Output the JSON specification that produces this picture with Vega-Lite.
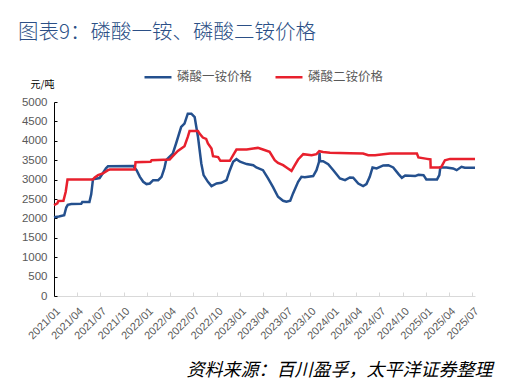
{
  "$schema": "https://vega.github.io/schema/vega-lite/v6.json",
  "autosize": "none",
  "width": 421,
  "height": 194,
  "padding": {"left": 54, "top": 102, "right": 32, "bottom": 86},
  "background": "white",
  "config": {"view": {"stroke": null}, "font": "Noto Sans CJK SC"},
  "title": {
    "text": "图表9：磷酸一铵、磷酸二铵价格",
    "anchor": "start",
    "frame": "group",
    "fontSize": 20.5,
    "fontWeight": 300,
    "font": "Noto Sans CJK SC",
    "color": "#2B4F86",
    "dx": -36,
    "dy": -19,
    "offset": 0
  },
  "data": {
    "values": [
      {"d": "2021/01/01", "v": 2030, "s": "磷酸一铵价格"},
      {"d": "2021/01/20", "v": 2050, "s": "磷酸一铵价格"},
      {"d": "2021/02/10", "v": 2080, "s": "磷酸一铵价格"},
      {"d": "2021/02/18", "v": 2280, "s": "磷酸一铵价格"},
      {"d": "2021/02/24", "v": 2350, "s": "磷酸一铵价格"},
      {"d": "2021/03/10", "v": 2370, "s": "磷酸一铵价格"},
      {"d": "2021/04/18", "v": 2380, "s": "磷酸一铵价格"},
      {"d": "2021/04/22", "v": 2420, "s": "磷酸一铵价格"},
      {"d": "2021/05/20", "v": 2420, "s": "磷酸一铵价格"},
      {"d": "2021/05/27", "v": 2620, "s": "磷酸一铵价格"},
      {"d": "2021/06/03", "v": 3010, "s": "磷酸一铵价格"},
      {"d": "2021/06/29", "v": 3040, "s": "磷酸一铵价格"},
      {"d": "2021/07/12", "v": 3170, "s": "磷酸一铵价格"},
      {"d": "2021/07/24", "v": 3290, "s": "磷酸一铵价格"},
      {"d": "2021/08/01", "v": 3346, "s": "磷酸一铵价格"},
      {"d": "2021/11/08", "v": 3350, "s": "磷酸一铵价格"},
      {"d": "2021/11/21", "v": 3243, "s": "磷酸一铵价格"},
      {"d": "2021/12/04", "v": 3071, "s": "磷酸一铵价格"},
      {"d": "2021/12/17", "v": 2943, "s": "磷酸一铵价格"},
      {"d": "2021/12/30", "v": 2884, "s": "磷酸一铵价格"},
      {"d": "2022/01/12", "v": 2900, "s": "磷酸一铵价格"},
      {"d": "2022/01/25", "v": 2986, "s": "磷酸一铵价格"},
      {"d": "2022/02/14", "v": 2986, "s": "磷酸一铵价格"},
      {"d": "2022/02/27", "v": 3070, "s": "磷酸一铵价格"},
      {"d": "2022/03/10", "v": 3287, "s": "磷酸一铵价格"},
      {"d": "2022/03/17", "v": 3500, "s": "磷酸一铵价格"},
      {"d": "2022/03/23", "v": 3540, "s": "磷酸一铵价格"},
      {"d": "2022/04/12", "v": 3672, "s": "磷酸一铵价格"},
      {"d": "2022/04/25", "v": 3930, "s": "磷酸一铵价格"},
      {"d": "2022/05/15", "v": 4356, "s": "磷酸一铵价格"},
      {"d": "2022/05/28", "v": 4444, "s": "磷酸一铵价格"},
      {"d": "2022/06/10", "v": 4700, "s": "磷酸一铵价格"},
      {"d": "2022/06/24", "v": 4700, "s": "磷酸一铵价格"},
      {"d": "2022/07/07", "v": 4613, "s": "磷酸一铵价格"},
      {"d": "2022/07/20", "v": 4099, "s": "磷酸一铵价格"},
      {"d": "2022/08/02", "v": 3415, "s": "磷酸一铵价格"},
      {"d": "2022/08/11", "v": 3115, "s": "磷酸一铵价格"},
      {"d": "2022/08/28", "v": 2943, "s": "磷酸一铵价格"},
      {"d": "2022/09/11", "v": 2832, "s": "磷酸一铵价格"},
      {"d": "2022/10/01", "v": 2900, "s": "磷酸一铵价格"},
      {"d": "2022/10/20", "v": 2917, "s": "磷酸一铵价格"},
      {"d": "2022/11/09", "v": 2986, "s": "磷酸一铵价格"},
      {"d": "2022/11/22", "v": 3243, "s": "磷酸一铵价格"},
      {"d": "2022/12/05", "v": 3457, "s": "磷酸一铵价格"},
      {"d": "2022/12/18", "v": 3526, "s": "磷酸一铵价格"},
      {"d": "2023/01/01", "v": 3460, "s": "磷酸一铵价格"},
      {"d": "2023/01/27", "v": 3400, "s": "磷酸一铵价格"},
      {"d": "2023/02/22", "v": 3370, "s": "磷酸一铵价格"},
      {"d": "2023/03/06", "v": 3313, "s": "磷酸一铵价格"},
      {"d": "2023/04/01", "v": 3243, "s": "磷酸一铵价格"},
      {"d": "2023/04/21", "v": 3030, "s": "磷酸一铵价格"},
      {"d": "2023/05/10", "v": 2814, "s": "磷酸一铵价格"},
      {"d": "2023/05/30", "v": 2557, "s": "磷酸一铵价格"},
      {"d": "2023/06/19", "v": 2454, "s": "磷酸一铵价格"},
      {"d": "2023/07/02", "v": 2429, "s": "磷酸一铵价格"},
      {"d": "2023/07/17", "v": 2454, "s": "磷酸一铵价格"},
      {"d": "2023/07/28", "v": 2644, "s": "磷酸一铵价格"},
      {"d": "2023/08/17", "v": 2943, "s": "磷酸一铵价格"},
      {"d": "2023/08/30", "v": 3071, "s": "磷酸一铵价格"},
      {"d": "2023/09/12", "v": 3060, "s": "磷酸一铵价格"},
      {"d": "2023/10/15", "v": 3090, "s": "磷酸一铵价格"},
      {"d": "2023/10/28", "v": 3243, "s": "磷酸一铵价格"},
      {"d": "2023/11/07", "v": 3457, "s": "磷酸一铵价格"},
      {"d": "2023/11/09", "v": 3690, "s": "磷酸一铵价格"},
      {"d": "2023/11/11", "v": 3475, "s": "磷酸一铵价格"},
      {"d": "2023/11/23", "v": 3475, "s": "磷酸一铵价格"},
      {"d": "2023/12/13", "v": 3398, "s": "磷酸一铵价格"},
      {"d": "2024/01/02", "v": 3243, "s": "磷酸一铵价格"},
      {"d": "2024/01/28", "v": 3030, "s": "磷酸一铵价格"},
      {"d": "2024/02/17", "v": 2986, "s": "磷酸一铵价格"},
      {"d": "2024/03/07", "v": 3056, "s": "磷酸一铵价格"},
      {"d": "2024/03/20", "v": 3050, "s": "磷酸一铵价格"},
      {"d": "2024/04/09", "v": 2900, "s": "磷酸一铵价格"},
      {"d": "2024/04/28", "v": 2832, "s": "磷酸一铵价格"},
      {"d": "2024/05/11", "v": 2884, "s": "磷酸一铵价格"},
      {"d": "2024/05/24", "v": 3071, "s": "磷酸一铵价格"},
      {"d": "2024/06/04", "v": 3313, "s": "磷酸一铵价格"},
      {"d": "2024/06/20", "v": 3287, "s": "磷酸一铵价格"},
      {"d": "2024/07/16", "v": 3364, "s": "磷酸一铵价格"},
      {"d": "2024/08/05", "v": 3372, "s": "磷酸一铵价格"},
      {"d": "2024/08/24", "v": 3313, "s": "磷酸一铵价格"},
      {"d": "2024/09/14", "v": 3141, "s": "磷酸一铵价格"},
      {"d": "2024/09/27", "v": 3046, "s": "磷酸一铵价格"},
      {"d": "2024/10/10", "v": 3107, "s": "磷酸一铵价格"},
      {"d": "2024/11/18", "v": 3090, "s": "磷酸一铵价格"},
      {"d": "2024/12/01", "v": 3124, "s": "磷酸一铵价格"},
      {"d": "2024/12/21", "v": 3115, "s": "磷酸一铵价格"},
      {"d": "2025/01/01", "v": 3004, "s": "磷酸一铵价格"},
      {"d": "2025/02/12", "v": 3004, "s": "磷酸一铵价格"},
      {"d": "2025/02/21", "v": 3115, "s": "磷酸一铵价格"},
      {"d": "2025/02/25", "v": 3313, "s": "磷酸一铵价格"},
      {"d": "2025/03/21", "v": 3313, "s": "磷酸一铵价格"},
      {"d": "2025/04/16", "v": 3287, "s": "磷酸一铵价格"},
      {"d": "2025/04/30", "v": 3243, "s": "磷酸一铵价格"},
      {"d": "2025/05/19", "v": 3330, "s": "磷酸一铵价格"},
      {"d": "2025/06/01", "v": 3305, "s": "磷酸一铵价格"},
      {"d": "2025/07/11", "v": 3305, "s": "磷酸一铵价格"},
      {"d": "2021/01/01", "v": 2344, "s": "磷酸二铵价格"},
      {"d": "2021/01/14", "v": 2387, "s": "磷酸二铵价格"},
      {"d": "2021/01/18", "v": 2450, "s": "磷酸二铵价格"},
      {"d": "2021/02/07", "v": 2454, "s": "磷酸二铵价格"},
      {"d": "2021/02/16", "v": 2686, "s": "磷酸二铵价格"},
      {"d": "2021/02/23", "v": 3000, "s": "磷酸二铵价格"},
      {"d": "2021/06/03", "v": 3004, "s": "磷酸二铵价格"},
      {"d": "2021/06/10", "v": 3056, "s": "磷酸二铵价格"},
      {"d": "2021/06/23", "v": 3115, "s": "磷酸二铵价格"},
      {"d": "2021/07/12", "v": 3158, "s": "磷酸二铵价格"},
      {"d": "2021/08/01", "v": 3243, "s": "磷酸二铵价格"},
      {"d": "2021/08/08", "v": 3260, "s": "磷酸二铵价格"},
      {"d": "2021/11/14", "v": 3260, "s": "磷酸二铵价格"},
      {"d": "2021/11/17", "v": 3450, "s": "磷酸二铵价格"},
      {"d": "2022/01/15", "v": 3457, "s": "磷酸二铵价格"},
      {"d": "2022/01/19", "v": 3500, "s": "磷酸二铵价格"},
      {"d": "2022/03/31", "v": 3520, "s": "磷酸二铵价格"},
      {"d": "2022/04/12", "v": 3603, "s": "磷酸二铵价格"},
      {"d": "2022/05/02", "v": 3740, "s": "磷酸二铵价格"},
      {"d": "2022/05/28", "v": 3860, "s": "磷酸二铵价格"},
      {"d": "2022/06/10", "v": 4099, "s": "磷酸二铵价格"},
      {"d": "2022/06/17", "v": 4253, "s": "磷酸二铵价格"},
      {"d": "2022/07/20", "v": 4250, "s": "磷酸二铵价格"},
      {"d": "2022/07/26", "v": 4187, "s": "磷酸二铵价格"},
      {"d": "2022/08/08", "v": 4084, "s": "磷酸二铵价格"},
      {"d": "2022/08/21", "v": 4050, "s": "磷酸二铵价格"},
      {"d": "2022/08/28", "v": 3930, "s": "磷酸二铵价格"},
      {"d": "2022/09/11", "v": 3801, "s": "磷酸二铵价格"},
      {"d": "2022/09/17", "v": 3603, "s": "磷酸二铵价格"},
      {"d": "2022/10/07", "v": 3580, "s": "磷酸二铵价格"},
      {"d": "2022/10/16", "v": 3483, "s": "磷酸二铵价格"},
      {"d": "2022/11/22", "v": 3483, "s": "磷酸二铵价格"},
      {"d": "2022/12/05", "v": 3629, "s": "磷酸二铵价格"},
      {"d": "2022/12/18", "v": 3775, "s": "磷酸二铵价格"},
      {"d": "2023/01/27", "v": 3775, "s": "磷酸二铵价格"},
      {"d": "2023/02/22", "v": 3801, "s": "磷酸二铵价格"},
      {"d": "2023/03/12", "v": 3817, "s": "磷酸二铵价格"},
      {"d": "2023/04/01", "v": 3775, "s": "磷酸二铵价格"},
      {"d": "2023/04/27", "v": 3714, "s": "磷酸二铵价格"},
      {"d": "2023/05/17", "v": 3500, "s": "磷酸二铵价格"},
      {"d": "2023/05/30", "v": 3431, "s": "磷酸二铵价格"},
      {"d": "2023/06/19", "v": 3372, "s": "磷酸二铵价格"},
      {"d": "2023/07/08", "v": 3287, "s": "磷酸二铵价格"},
      {"d": "2023/07/22", "v": 3225, "s": "磷酸二铵价格"},
      {"d": "2023/08/04", "v": 3372, "s": "磷酸二铵价格"},
      {"d": "2023/08/17", "v": 3518, "s": "磷酸二铵价格"},
      {"d": "2023/09/06", "v": 3655, "s": "磷酸二铵价格"},
      {"d": "2023/10/09", "v": 3629, "s": "磷酸二铵价格"},
      {"d": "2023/10/28", "v": 3655, "s": "磷酸二铵价格"},
      {"d": "2023/11/08", "v": 3732, "s": "磷酸二铵价格"},
      {"d": "2023/11/23", "v": 3714, "s": "磷酸二铵价格"},
      {"d": "2023/12/20", "v": 3690, "s": "磷酸二铵价格"},
      {"d": "2024/03/07", "v": 3680, "s": "磷酸二铵价格"},
      {"d": "2024/04/28", "v": 3672, "s": "磷酸二铵价格"},
      {"d": "2024/05/18", "v": 3629, "s": "磷酸二铵价格"},
      {"d": "2024/06/14", "v": 3629, "s": "磷酸二铵价格"},
      {"d": "2024/07/16", "v": 3655, "s": "磷酸二铵价格"},
      {"d": "2024/08/12", "v": 3672, "s": "磷酸二铵价格"},
      {"d": "2024/11/25", "v": 3672, "s": "磷酸二铵价格"},
      {"d": "2024/12/01", "v": 3570, "s": "磷酸二铵价格"},
      {"d": "2025/01/04", "v": 3534, "s": "磷酸二铵价格"},
      {"d": "2025/01/17", "v": 3520, "s": "磷酸二铵价格"},
      {"d": "2025/01/18", "v": 3313, "s": "磷酸二铵价格"},
      {"d": "2025/02/25", "v": 3313, "s": "磷酸二铵价格"},
      {"d": "2025/03/02", "v": 3340, "s": "磷酸二铵价格"},
      {"d": "2025/03/15", "v": 3500, "s": "磷酸二铵价格"},
      {"d": "2025/04/04", "v": 3534, "s": "磷酸二铵价格"},
      {"d": "2025/07/11", "v": 3534, "s": "磷酸二铵价格"}
    ]
  },
  "mark": {"type": "line", "strokeWidth": 2.5, "interpolate": "linear"},
  "encoding": {
    "x": {
      "field": "d",
      "type": "temporal",
      "scale": {"domain": [{"year": 2021, "month": 1, "date": 1}, {"year": 2025, "month": 7, "date": 11}]},
      "axis": {
        "values": [
          {"year": 2021, "month": 1, "date": 1}, {"year": 2021, "month": 4, "date": 1}, {"year": 2021, "month": 7, "date": 1}, {"year": 2021, "month": 10, "date": 1},
          {"year": 2022, "month": 1, "date": 1}, {"year": 2022, "month": 4, "date": 1}, {"year": 2022, "month": 7, "date": 1}, {"year": 2022, "month": 10, "date": 1},
          {"year": 2023, "month": 1, "date": 1}, {"year": 2023, "month": 4, "date": 1}, {"year": 2023, "month": 7, "date": 1}, {"year": 2023, "month": 10, "date": 1},
          {"year": 2024, "month": 1, "date": 1}, {"year": 2024, "month": 4, "date": 1}, {"year": 2024, "month": 7, "date": 1}, {"year": 2024, "month": 10, "date": 1},
          {"year": 2025, "month": 1, "date": 1}, {"year": 2025, "month": 4, "date": 1}, {"year": 2025, "month": 7, "date": 1}
        ],
        "format": "%Y/%m",
        "labelAngle": -45,
        "labelFont": "Liberation Sans",
        "labelFontSize": 11,
        "labelColor": "#595959",
        "labelPadding": 13,
        "labelOverlap": false,
        "grid": false,
        "domainColor": "#D9D9D9",
        "tickColor": "#D9D9D9",
        "tickSize": -4,
        "title": "资料来源：百川盈孚，太平洋证券整理",
        "titleFont": "Noto Sans CJK SC",
        "titleFontSize": 18,
        "titleFontWeight": "normal",
        "titleFontStyle": "italic",
        "titleColor": "#000000",
        "titleAnchor": "end",
        "titleAlign": "right",
        "titleBaseline": "middle",
        "titleX": 438,
        "titleY": 74
      }
    },
    "y": {
      "field": "v",
      "type": "quantitative",
      "scale": {"domain": [0, 5000]},
      "axis": {
        "values": [0, 500, 1000, 1500, 2000, 2500, 3000, 3500, 4000, 4500, 5000],
        "format": "d",
        "labelFont": "Liberation Sans",
        "labelFontSize": 11.5,
        "labelColor": "#595959",
        "labelPadding": 10,
        "grid": false,
        "domainColor": "#000000",
        "tickColor": "#000000",
        "tickSize": -3,
        "title": "元/吨",
        "titleFont": "Noto Sans CJK SC",
        "titleFontSize": 10,
        "titleFontWeight": "normal",
        "titleColor": "#000000",
        "titleAngle": 0,
        "titleAlign": "center",
        "titleBaseline": "middle",
        "titleX": -12,
        "titleY": -18
      }
    },
    "color": {
      "field": "s",
      "type": "nominal",
      "scale": {"domain": ["磷酸一铵价格", "磷酸二铵价格"], "range": ["#24508E", "#E8202D"]},
      "legend": {
        "orient": "none",
        "legendX": 89,
        "legendY": -40,
        "direction": "horizontal",
        "title": null,
        "symbolType": "stroke",
        "symbolSize": 729,
        "symbolStrokeWidth": 2.5,
        "labelFont": "Noto Sans CJK SC",
        "labelFontSize": 12.5,
        "labelColor": "#595959",
        "labelOffset": 4,
        "columnPadding": 17,
        "padding": 0
      }
    }
  }
}
